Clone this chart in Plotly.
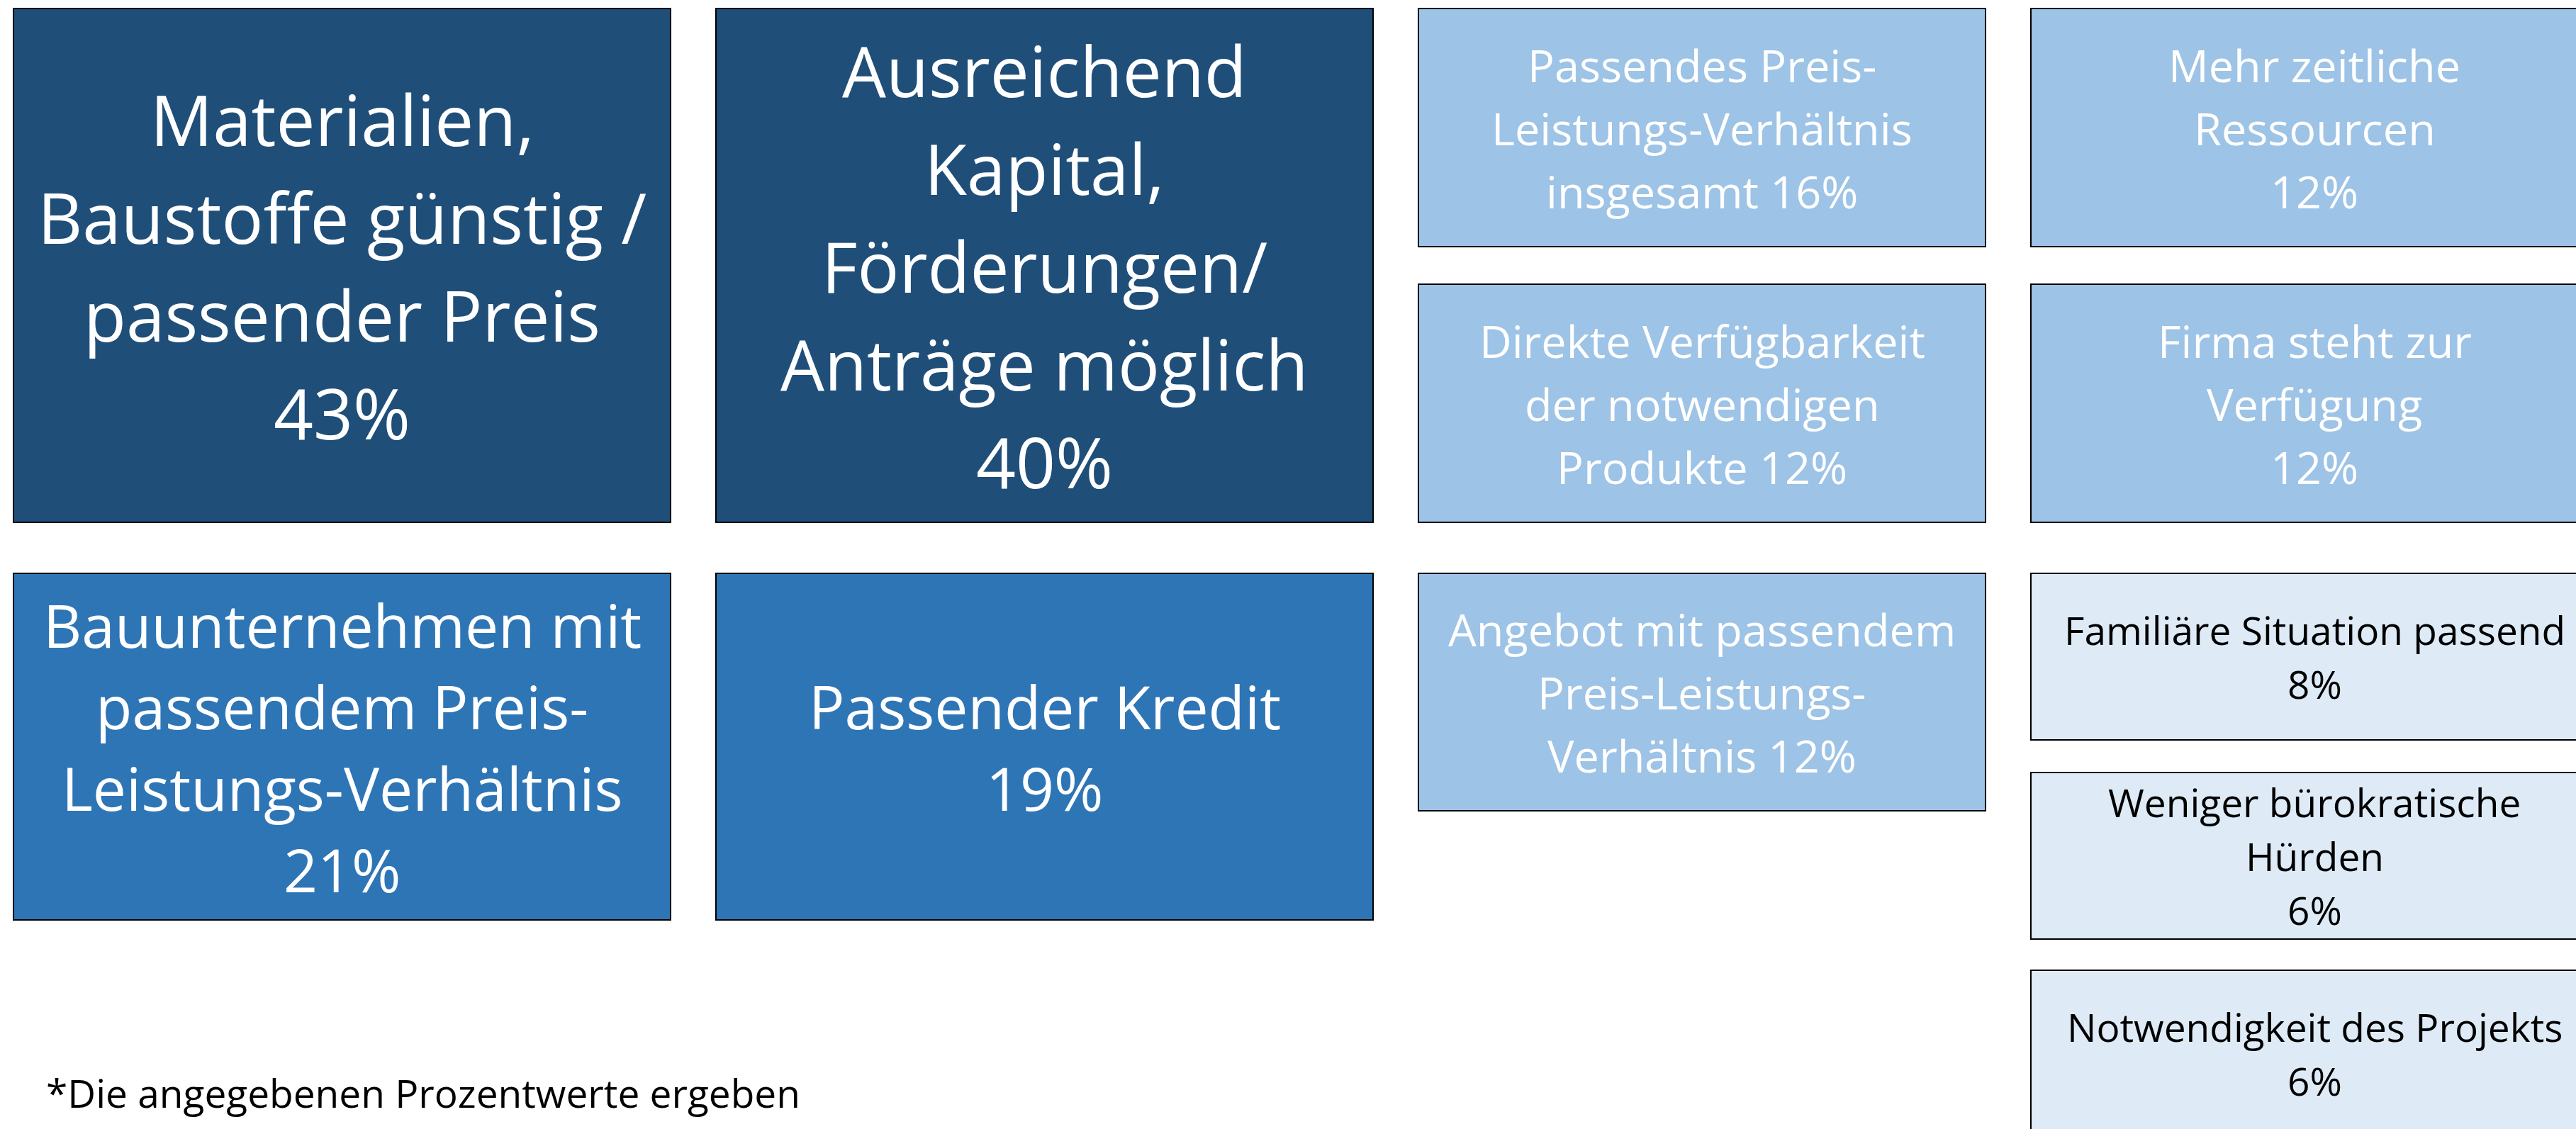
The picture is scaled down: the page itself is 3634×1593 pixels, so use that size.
import plotly.graph_objects as go

# ---------------- data ----------------
labels = [
    "Materialien,<br>Baustoffe günstig /<br>passender Preis",
    "Bauunternehmen mit<br>passendem Preis-<br>Leistungs-Verhältnis",
    "Ausreichend<br>Kapital,<br>Förderungen/<br>Anträge möglich",
    "Passender Kredit",
    "Passendes Preis-<br>Leistungs-Verhältnis<br>insgesamt",
    "Direkte Verfügbarkeit<br>der notwendigen<br>Produkte",
    "Angebot mit passendem<br>Preis-Leistungs-<br>Verhältnis",
    "Mehr zeitliche<br>Ressourcen",
    "Firma steht zur<br>Verfügung",
    "Familiäre Situation passend",
    "Weniger bürokratische<br>Hürden",
    "Notwendigkeit des Projekts",
]
values = [43, 21, 40, 19, 16, 12, 12, 12, 12, 8, 6, 6]
value_own_line = [True, True, True, True, False, False, False, True, True, True, True, True]
footnote = "*Die angegebenen Prozentwerte ergeben"

# ---------------- layout / style ----------------
W, H = 3634, 1593
LEFT, TOP, GAP_X = 19, 12, 64
col_widths = [927, 927, 800, 800]
col_stacks = [
    ([725, 489], [72]),
    ([725, 489], [72]),
    ([336, 336, 335], [53, 72]),
    ([336, 336, 235, 235, 235], [53, 72, 46, 44]),
]
tiers = ["A", "B", "A", "B", "C", "C", "C", "C", "C", "D", "D", "D"]
tier_style = {
    "A": dict(fill="#1F4E79", color="white", size=98, spacing=138),
    "B": dict(fill="#2E75B6", color="white", size=84, spacing=115),
    "C": dict(fill="#9DC3E6", color="white", size=63, spacing=89),
    "D": dict(fill="#DEEBF7", color="black", size=55, spacing=76),
}
FONT = "Open Sans"

fig = go.Figure()
# invisible trace to establish axes
fig.add_trace(go.Scatter(x=[0, W], y=[0, H], mode="markers",
                         marker=dict(opacity=0), hoverinfo="skip", showlegend=False))

shapes, annotations = [], []
idx = 0
x0 = LEFT
for c, (heights, gaps) in enumerate(col_stacks):
    w = col_widths[c]
    y0 = TOP
    for k, h in enumerate(heights):
        st = tier_style[tiers[idx]]
        shapes.append(dict(type="rect", xref="x", yref="y",
                           x0=x0, x1=x0 + w, y0=y0, y1=y0 + h,
                           fillcolor=st["fill"], line=dict(color="black", width=2),
                           layer="below"))
        lines = labels[idx].split("<br>")
        pct = f"{values[idx]}%"
        if value_own_line[idx]:
            lines.append(pct)
        else:
            lines[-1] = lines[-1] + " " + pct
        n = len(lines)
        cx, cy = x0 + w / 2, y0 + h / 2
        for j, line in enumerate(lines):
            annotations.append(dict(x=cx, y=cy + (j - (n - 1) / 2) * st["spacing"],
                                    xref="x", yref="y", text=line, showarrow=False,
                                    xanchor="center", yanchor="middle",
                                    font=dict(family=FONT, size=st["size"], color=st["color"])))
        idx += 1
        if k < len(gaps):
            y0 += h + gaps[k]
    x0 += w + GAP_X

annotations.append(dict(x=63, y=1541, xref="x", yref="y", text=footnote, showarrow=False,
                        xanchor="left", yanchor="middle",
                        font=dict(family=FONT, size=55, color="black")))

fig.update_layout(
    width=W, height=H, margin=dict(l=0, r=0, t=0, b=0),
    paper_bgcolor="white", plot_bgcolor="white",
    xaxis=dict(range=[0, W], visible=False, fixedrange=True),
    yaxis=dict(range=[H, 0], visible=False, fixedrange=True),
    shapes=shapes, annotations=annotations, showlegend=False,
)
fig.write_html("out.html", config={"displayModeBar": False},
               post_script="document.body.style.margin='0';document.body.style.overflow='hidden';")
